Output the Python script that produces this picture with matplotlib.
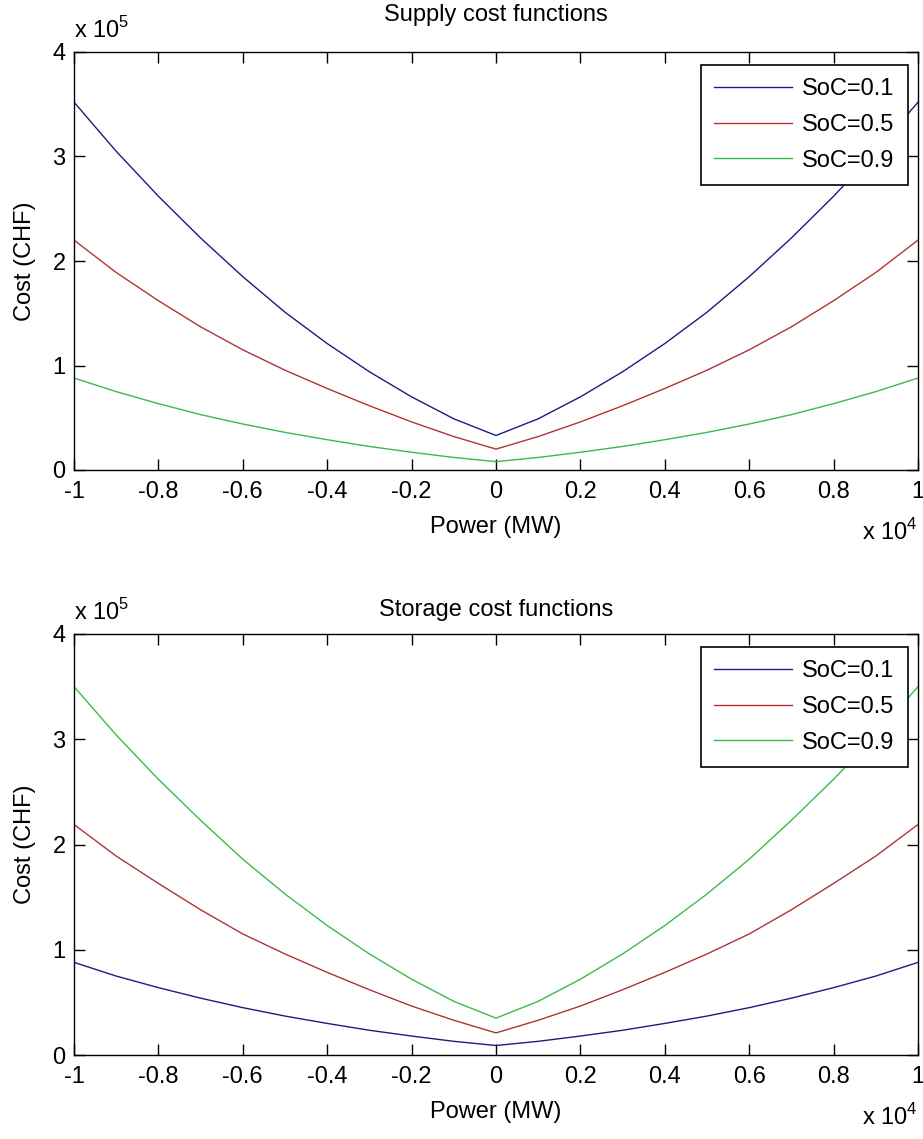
import numpy as np
import matplotlib
matplotlib.use("Agg")
import matplotlib.pyplot as plt
from matplotlib.ticker import FuncFormatter

plt.rcParams['font.family'] = ['Liberation Sans', 'DejaVu Sans']

# ---- data (power in MW, cost in CHF) ----
power_mw = [-10000, -9000, -8000, -7000, -6000, -5000, -4000, -3000, -2000, -1000, 0,
            1000, 2000, 3000, 4000, 5000, 6000, 7000, 8000, 9000, 10000]

# Supply cost functions
supply_soc01 = [352000, 305000, 262000, 222000, 185000, 151000, 121000, 94000, 70000, 49000, 33000,
                49000, 70000, 94000, 121000, 151000, 185000, 222000, 262000, 305000, 352000]
supply_soc05 = [220000, 189000, 162000, 137000, 115000, 95500, 78000, 61500, 46000, 32000, 20000,
                32000, 46000, 61500, 78000, 95500, 115000, 137000, 162000, 189000, 220000]
supply_soc09 = [88000, 75000, 63500, 53000, 44000, 36000, 29000, 22500, 17000, 12000, 8000,
                12000, 17000, 22500, 29000, 36000, 44000, 53000, 63500, 75000, 88000]

# Storage cost functions
storage_soc01 = [88000, 75000, 64000, 54000, 45000, 37000, 30000, 23500, 18000, 13000, 9000,
                 13000, 18000, 23500, 30000, 37000, 45000, 54000, 64000, 75000, 88000]
storage_soc05 = [219000, 189000, 163000, 138000, 115000, 96000, 78500, 62000, 46500, 33000, 21000,
                 33000, 46500, 62000, 78500, 96000, 115000, 138000, 163000, 189000, 219000]
storage_soc09 = [350000, 304000, 262000, 223000, 186000, 153000, 123000, 96000, 72000, 51000, 35000,
                 51000, 72000, 96000, 123000, 153000, 186000, 223000, 262000, 304000, 350000]

series_labels = ['SoC=0.1', 'SoC=0.5', 'SoC=0.9']
titles = ['Supply cost functions', 'Storage cost functions']
x_ticks = [-10000, -8000, -6000, -4000, -2000, 0, 2000, 4000, 6000, 8000, 10000]
y_ticks = [0, 100000, 200000, 300000, 400000]

colors = ['#1c1c80', '#b03434', '#3cba4a']

W, H = 923, 1139
fig = plt.figure(figsize=(W / 100, H / 100), dpi=100)

def frac_axes(l, t, r, b):
    return fig.add_axes([l / W, 1 - b / H, (r - l) / W, (b - t) / H])

ax1 = frac_axes(74, 52, 918, 470)
ax2 = frac_axes(74, 634, 918, 1055)

FS = 17

def style(ax, series, title, title_pad, hpx):
    for ys, lab, c in zip(series, series_labels, colors):
        ax.plot(power_mw, ys, color=c, lw=1.0, label=lab)
    ax.set_xlim(-10000, 10000)
    ax.set_ylim(0, 400000)
    ax.set_xticks(x_ticks)
    ax.set_yticks(y_ticks)
    ax.xaxis.set_major_formatter(FuncFormatter(lambda v, p: f'{round(v / 1e4, 1):g}'))
    ax.yaxis.set_major_formatter(FuncFormatter(lambda v, p: f'{round(v / 1e5, 1):g}'))
    ax.tick_params(direction='in', length=8, width=1.0, top=True, right=True,
                   labelsize=FS, colors='black')
    ax.tick_params(axis='x', pad=8)
    ax.tick_params(axis='y', pad=6)
    for s in ax.spines.values():
        s.set_linewidth(1.0)
        s.set_color('black')
    ax.set_title(title, fontsize=FS, pad=title_pad)
    ax.set_xlabel('Power (MW)', fontsize=FS, va='baseline')
    ax.xaxis.set_label_coords(0.5, -63 / hpx)
    ax.set_ylabel('Cost (CHF)', fontsize=FS)
    ax.yaxis.set_label_coords(-0.045, 0.5)
    ax.text(0.0, 1 + 14 / hpx, r'x 10$^{\mathregular{5}}$', transform=ax.transAxes,
            ha='left', va='baseline', fontsize=FS)
    ax.text(1.0, -70 / hpx, r'x 10$^{\mathregular{4}}$', transform=ax.transAxes,
            ha='right', va='baseline', fontsize=FS)
    leg = ax.legend(loc='upper right', bbox_to_anchor=(0.988, 1 - 13 / hpx), borderaxespad=0,
                    fontsize=FS, fancybox=False, framealpha=1, edgecolor='black',
                    handlelength=3.3, handletextpad=0.45, labelspacing=0.58,
                    borderpad=0.56)
    leg.get_frame().set_linewidth(1.2)

style(ax1, [supply_soc01, supply_soc05, supply_soc09], titles[0], 22, 418)
style(ax2, [storage_soc01, storage_soc05, storage_soc09], titles[1], 13, 421)

fig.savefig('out.png', dpi=100)
